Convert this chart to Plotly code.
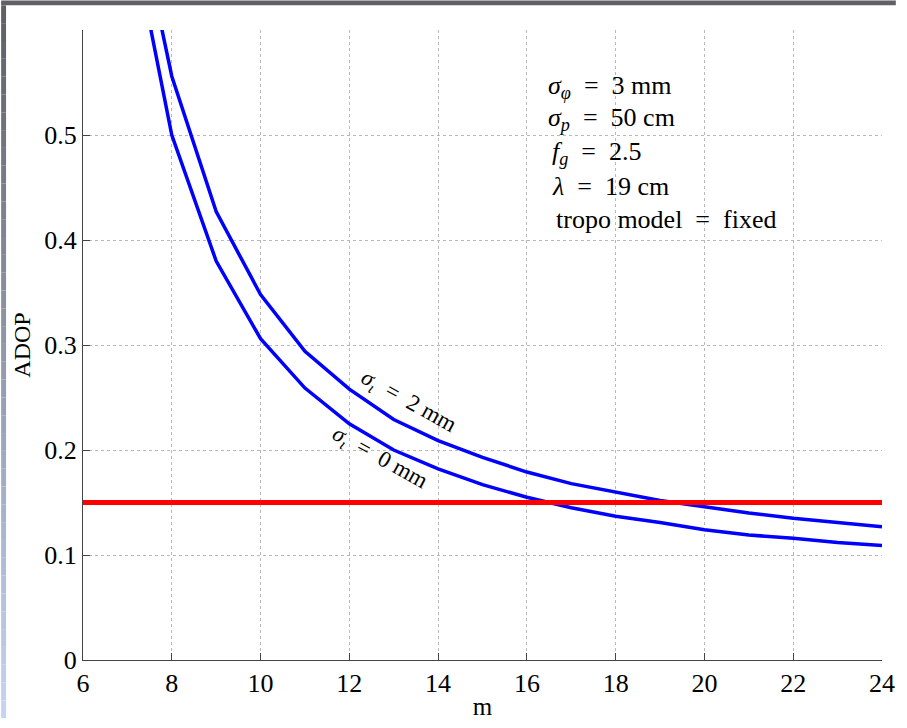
import plotly.graph_objects as go

m_vals = [7, 8, 9, 10, 11, 12, 13, 14, 15, 16, 17, 18, 19, 20, 21, 22, 23, 24]
adop_sig0 = [0.713, 0.500, 0.380, 0.306, 0.259, 0.225, 0.200, 0.182, 0.167, 0.155,
             0.145, 0.137, 0.131, 0.124, 0.119, 0.116, 0.112, 0.109]
adop_sig2 = [0.756, 0.556, 0.427, 0.348, 0.294, 0.258, 0.229, 0.209, 0.193, 0.179,
             0.168, 0.160, 0.152, 0.146, 0.140, 0.135, 0.131, 0.127]
threshold_x = [6, 24]
threshold_y = [0.15, 0.15]

x_ticks = [6, 8, 10, 12, 14, 16, 18, 20, 22, 24]
y_ticks = [0, 0.1, 0.2, 0.3, 0.4, 0.5]
y_tick_labels = ["0", "0.1", "0.2", "0.3", "0.4", "0.5"]

W, H = 907, 728
L, R, T, B = 83, 14, 30, 59
PW, PH = W - L - R, H - T - B

fig = go.Figure()
fig.add_trace(go.Scatter(x=m_vals, y=adop_sig0, mode="lines",
                         line=dict(color="#0000ff", width=3.5), showlegend=False))
fig.add_trace(go.Scatter(x=m_vals, y=adop_sig2, mode="lines",
                         line=dict(color="#0000ff", width=3.5), showlegend=False))
fig.add_trace(go.Scatter(x=threshold_x, y=threshold_y, mode="lines",
                         line=dict(color="#ff0000", width=5), showlegend=False))

font_serif = "Liberation Serif, DejaVu Serif, serif"
EQ = "\u00a0=\u00a0"

annos = [
    (16.44, 0.546, "<i>σ</i><sub><i>φ</i></sub> " + EQ + " 3 mm"),
    (16.44, 0.515, "<i>σ</i><sub><i>p</i></sub> " + EQ + " 50 cm"),
    (16.53, 0.483, "<i>f</i><sub><i>g</i></sub> " + EQ + " 2.5"),
    (16.53, 0.451, "<i>λ</i> " + EQ + " 19 cm"),
    (16.60, 0.420, "tropo model " + EQ + " fixed"),
]
for x, y, t in annos:
    fig.add_annotation(x=x, y=y, text=t, showarrow=False, xanchor="left", yanchor="middle",
                       font=dict(family=font_serif, size=26, color="black"))

fig.add_annotation(x=13.33, y=0.246, text="<i>σ</i><sub><i>ι</i></sub> " + EQ + " 2 mm", showarrow=False,
                   textangle=29, font=dict(family=font_serif, size=23, color="black"))
fig.add_annotation(x=12.67, y=0.192, text="<i>σ</i><sub><i>ι</i></sub> " + EQ + " 0 mm", showarrow=False,
                   textangle=29, font=dict(family=font_serif, size=23, color="black"))

# slide frame: dark top bar and gradient left bar
shapes = []
shapes.append(dict(type="rect", xref="paper", yref="paper",
                   x0=-L / PW, x1=(W - L) / PW, y0=1 + (T - 5) / PH, y1=1 + T / PH,
                   fillcolor="#606166", line=dict(width=0), layer="above"))
n = 40
c0 = (0x60, 0x61, 0x66)
c1 = (0xc4, 0xd4, 0xf0)
for i in range(n):
    f = i / (n - 1)
    c = tuple(int(c0[k] + (c1[k] - c0[k]) * f) for k in range(3))
    ytop = 5 + (H - 5) * i / n
    ybot = 5 + (H - 5) * (i + 1) / n
    shapes.append(dict(type="rect", xref="paper", yref="paper",
                       x0=-L / PW, x1=(5 - L) / PW,
                       y0=(H - B - ybot) / PH, y1=(H - B - ytop) / PH,
                       fillcolor="rgb(%d,%d,%d)" % c, line=dict(width=0), layer="above"))

fig.update_layout(
    autosize=True,
    margin=dict(l=L, r=R, t=T, b=B),
    paper_bgcolor="white", plot_bgcolor="white",
    shapes=shapes,
    xaxis=dict(range=[6, 24], tickvals=x_ticks, ticks="inside", ticklen=7, tickcolor="#444",
               showline=True, linecolor="#444", linewidth=1, mirror=False,
               showgrid=True, gridcolor="#b8b8b8", griddash="dot", gridwidth=1,
               zeroline=False,
               tickfont=dict(family=font_serif, size=26, color="black"),
               title=dict(text="m", font=dict(family=font_serif, size=25, color="black"), standoff=0)),
    yaxis=dict(range=[0, 0.6], tickvals=y_ticks, ticktext=y_tick_labels, ticks="inside", ticklen=7,
               tickcolor="#444", showline=True, linecolor="#444", linewidth=1, mirror=False,
               showgrid=True, gridcolor="#b8b8b8", griddash="dot", gridwidth=1,
               zeroline=False,
               tickfont=dict(family=font_serif, size=26, color="black"),
               title=dict(text="ADOP", font=dict(family=font_serif, size=24, color="black"), standoff=6)),
)

fig.write_html(
    "out.html",
    config={"displayModeBar": False, "responsive": True},
    default_width="100vw",
    default_height="100vh",
    post_script=(
        "document.documentElement.style.margin='0';"
        "document.documentElement.style.overflow='hidden';"
        "document.body.style.margin='0';"
        "document.body.style.overflow='hidden';"
    ),
)
